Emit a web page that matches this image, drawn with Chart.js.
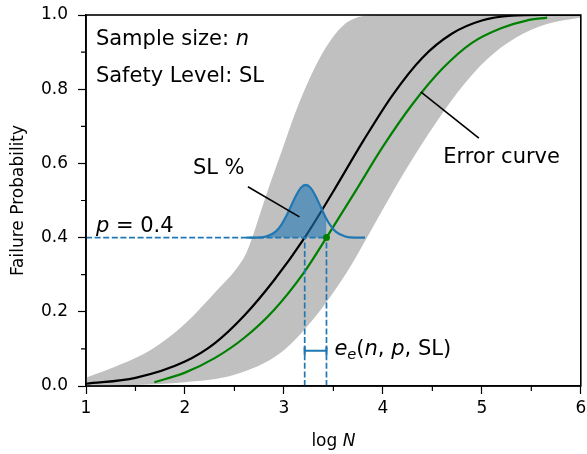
<!DOCTYPE html>
<html>
<head>
<meta charset="utf-8">
<script src="https://cdn.jsdelivr.net/npm/chart.js@4.4.1/dist/chart.umd.min.js"></script>
<style>
  html, body { margin: 0; padding: 0; background: #fff; }
</style>
</head>
<body>
<canvas id="myChart" width="587" height="454"></canvas>
<script>
// black curve: failure probability vs log N
const cdfX = [1.0, 1.5, 2.0, 2.3, 2.6, 2.9, 3.21, 3.5, 3.8, 4.1, 4.4, 4.7, 5.0, 5.3, 5.6, 6.0];
const cdfY = [0.006, 0.022, 0.066, 0.115, 0.19, 0.285, 0.40, 0.525, 0.66, 0.785, 0.885, 0.95, 0.985, 0.998, 1.0, 1.0];

// green "error curve"
const errX = [1.69, 2.0, 2.3, 2.6, 2.9, 3.2, 3.43, 3.7, 4.0, 4.3, 4.6, 4.9, 5.2, 5.45, 5.66];
const errY = [0.01, 0.036, 0.075, 0.13, 0.205, 0.305, 0.40, 0.515, 0.645, 0.76, 0.855, 0.925, 0.965, 0.985, 0.993];

// gray band, upper and lower edge
const bandUpX = [1.0, 1.34, 1.67, 2.0, 2.34, 2.51, 2.61, 2.68, 2.76, 2.86, 2.98, 3.12, 3.27, 3.43, 3.6, 3.8, 4.0, 6.0];
const bandUpY = [0.022, 0.057, 0.10, 0.168, 0.263, 0.313, 0.353, 0.40, 0.465, 0.545, 0.635, 0.74, 0.835, 0.915, 0.972, 0.997, 1.0, 1.0];
const bandLowX = [1.0, 1.5, 2.0, 2.5, 2.96, 3.29, 3.63, 3.86, 4.17, 4.45, 4.75, 5.05, 5.35, 5.65, 6.0];
const bandLowY = [0.0, 0.003, 0.01, 0.03, 0.088, 0.178, 0.304, 0.41, 0.555, 0.675, 0.79, 0.88, 0.94, 0.975, 0.993];

// SL % bump sitting on p = 0.4
const gaussX = [2.62, 2.72, 2.82, 2.92, 2.97, 3.02, 3.07, 3.12, 3.17, 3.22, 3.27, 3.32, 3.37, 3.43, 3.47, 3.52, 3.62, 3.72, 3.82];
const gaussY = [0.4, 0.4, 0.403, 0.417, 0.433, 0.456, 0.484, 0.512, 0.534, 0.542, 0.534, 0.512, 0.484, 0.45, 0.433, 0.417, 0.403, 0.4, 0.4];

const pLevel = 0.4;
const logNTrue = 3.21;
const logNErr = 3.43;
const bracketY = 0.095;

// annotation arrows
const slLineX = [2.636, 3.157];
const slLineY = [0.537, 0.456];
const errLineX = [4.383, 4.97];
const errLineY = [0.793, 0.668];

// ticks
const xTicks = [1, 2, 3, 4, 5, 6];
const xMinor = [1.5, 2.5, 3.5, 4.5, 5.5];
const yTicks = [0, 0.2, 0.4, 0.6, 0.8, 1.0];
const yMinor = [0.1, 0.3, 0.5, 0.7, 0.9];

const pts = (xs, ys) => xs.map((v, i) => ({ x: v, y: ys[i] }));

const FONT = '"DejaVu Sans", sans-serif';

const drawRich = (ctx, parts, px, py, size) => {
  let cx = px;
  parts.forEach((p) => {
    const s = p.sub ? size * 0.7 : size;
    ctx.font = (p.it ? "italic " : "") + s + "px " + FONT;
    ctx.fillText(p.t, cx, py + (p.sub ? size * 0.22 : 0));
    cx += ctx.measureText(p.t).width;
  });
};

const decor = {
  id: "decor",
  afterDraw(chart) {
    const { ctx, chartArea: a, scales } = chart;
    const x = scales.x, y = scales.y;
    ctx.save();
    ctx.strokeStyle = "#000";
    ctx.lineWidth = 1.2;
    ctx.beginPath();
    xMinor.forEach((v) => {
      const px = x.getPixelForValue(v);
      ctx.moveTo(px, a.bottom);
      ctx.lineTo(px, a.bottom + 5);
    });
    yMinor.forEach((v) => {
      const py = y.getPixelForValue(v);
      ctx.moveTo(a.left, py);
      ctx.lineTo(a.left - 5, py);
    });
    ctx.stroke();
    ctx.lineWidth = 1.6;
    ctx.strokeRect(a.left, a.top, a.right - a.left, a.bottom - a.top);

    ctx.fillStyle = "#000";
    ctx.textBaseline = "alphabetic";
    ctx.textAlign = "left";
    const at = (vx, vy) => [x.getPixelForValue(vx), y.getPixelForValue(vy)];
    let p = at(1.1, 0.919);
    drawRich(ctx, [{ t: "Sample size: " }, { t: "n", it: true }], p[0], p[1], 21);
    p = at(1.1, 0.819);
    drawRich(ctx, [{ t: "Safety Level: SL" }], p[0], p[1], 21);
    p = at(2.08, 0.571);
    drawRich(ctx, [{ t: "SL %" }], p[0], p[1], 21);
    p = at(1.1, 0.415);
    drawRich(ctx, [{ t: "p", it: true }, { t: " = 0.4" }], p[0], p[1], 21);
    p = at(4.61, 0.601);
    drawRich(ctx, [{ t: "Error curve" }], p[0], p[1], 21);
    p = at(3.51, 0.084);
    drawRich(ctx, [
      { t: "e", it: true }, { t: "e", it: true, sub: true }, { t: "(" }, { t: "n", it: true },
      { t: ", " }, { t: "p", it: true }, { t: ", SL)" }
    ], p[0], p[1], 21);

    // axis titles
    ctx.font = "17px " + FONT;
    const tw = ctx.measureText("log ").width;
    ctx.font = "italic 17px " + FONT;
    const nw = ctx.measureText("N").width;
    const cx = (a.left + a.right) / 2 - (tw + nw) / 2;
    drawRich(ctx, [{ t: "log " }, { t: "N", it: true }], cx, 446, 17);

    ctx.translate(23, (a.top + a.bottom) / 2);
    ctx.rotate(-Math.PI / 2);
    ctx.textAlign = "center";
    ctx.font = "17px " + FONT;
    ctx.fillText("Failure Probability", 0, 0);
    ctx.restore();
  },
};

const line = (data, color, width, order, extra) =>
  Object.assign({ data: data, borderColor: color, borderWidth: width, pointRadius: 0, fill: false, order: order }, extra || {});

// keep the plot box fixed: no extra room for overflowing tick labels
const noPad = (s) => {
  s.paddingLeft = 0;
  s.paddingRight = 0;
  s.paddingTop = 0;
  s.paddingBottom = 0;
};

var myChart;
const graph = () => {
  Chart.defaults.font.family = FONT;
  Chart.defaults.font.size = 17;
  Chart.defaults.color = "#000";
  const ctx = document.getElementById("myChart").getContext("2d");
  const gaussFill = pts(gaussX, gaussY).filter((d) => d.x <= logNErr);
  myChart = new Chart(ctx, {
    type: "line",
    data: {
      datasets: [
        line(pts(bandLowX, bandLowY), "rgba(0,0,0,0)", 0, 20, { cubicInterpolationMode: "monotone" }),
        line(pts(bandUpX, bandUpY), "rgba(0,0,0,0)", 0, 19, {
          cubicInterpolationMode: "monotone", fill: "-1", backgroundColor: "#c0c0c0",
        }),
        line(pts(cdfX, cdfY), "#000000", 2.2, 10, { cubicInterpolationMode: "monotone" }),
        line(pts(errX, errY), "#008000", 2.2, 9, { cubicInterpolationMode: "monotone" }),
        line(gaussFill, "rgba(0,0,0,0)", 0, 8, {
          cubicInterpolationMode: "monotone", fill: { value: pLevel }, backgroundColor: "rgba(31,119,180,0.6)",
        }),
        line(pts(gaussX, gaussY), "#1f77b4", 2.2, 7, { cubicInterpolationMode: "monotone" }),
        line(pts([1, logNErr], [pLevel, pLevel]), "#1f77b4", 1.7, 6, { borderDash: [6, 2.6] }),
        line(pts([logNTrue, logNTrue], [0, pLevel]), "#1f77b4", 1.7, 6, { borderDash: [6, 2.6] }),
        line(pts([logNErr, logNErr], [0, pLevel]), "#1f77b4", 1.7, 6, { borderDash: [6, 2.6] }),
        line(pts([logNTrue, logNErr], [bracketY, bracketY]), "#1f77b4", 2.2, 5, {
          pointRadius: 4, pointStyle: "line", rotation: 90, pointBorderWidth: 2.2, pointBorderColor: "#1f77b4",
        }),
        line(pts(slLineX, slLineY), "#000000", 1.6, 4),
        line(pts(errLineX, errLineY), "#000000", 1.6, 4),
        line(pts([logNErr], [pLevel]), "#008000", 0, 1, {
          pointRadius: 3.5, pointBackgroundColor: "#008000", pointBorderWidth: 0, showLine: false,
        }),
      ],
    },
    options: {
      responsive: false,
      animation: false,
      events: [],
      layout: { padding: { left: 0, right: 5, top: 15, bottom: 0 } },
      plugins: { legend: { display: false }, tooltip: { enabled: false } },
      scales: {
        x: {
          type: "linear",
          min: 1,
          max: 6,
          afterFit: (s) => { s.height = 68; noPad(s); },
          afterBuildTicks: (s) => { s.ticks = xTicks.map((v) => ({ value: v })); },
          ticks: { padding: 4, callback: (v) => v.toFixed(0) },
          grid: { drawOnChartArea: false, tickLength: 8, tickWidth: 1.2, tickColor: "#000" },
          border: { color: "#000", width: 1.6 },
        },
        y: {
          min: 0,
          max: 1,
          afterFit: (s) => { s.width = 86; noPad(s); },
          afterBuildTicks: (s) => { s.ticks = yTicks.map((v) => ({ value: v })); },
          ticks: { padding: 10, callback: (v) => v.toFixed(1) },
          grid: { drawOnChartArea: false, tickLength: 8, tickWidth: 1.2, tickColor: "#000" },
          border: { color: "#000", width: 1.6 },
        },
      },
    },
    plugins: [decor],
  });
};

graph();
</script>
</body>
</html>
